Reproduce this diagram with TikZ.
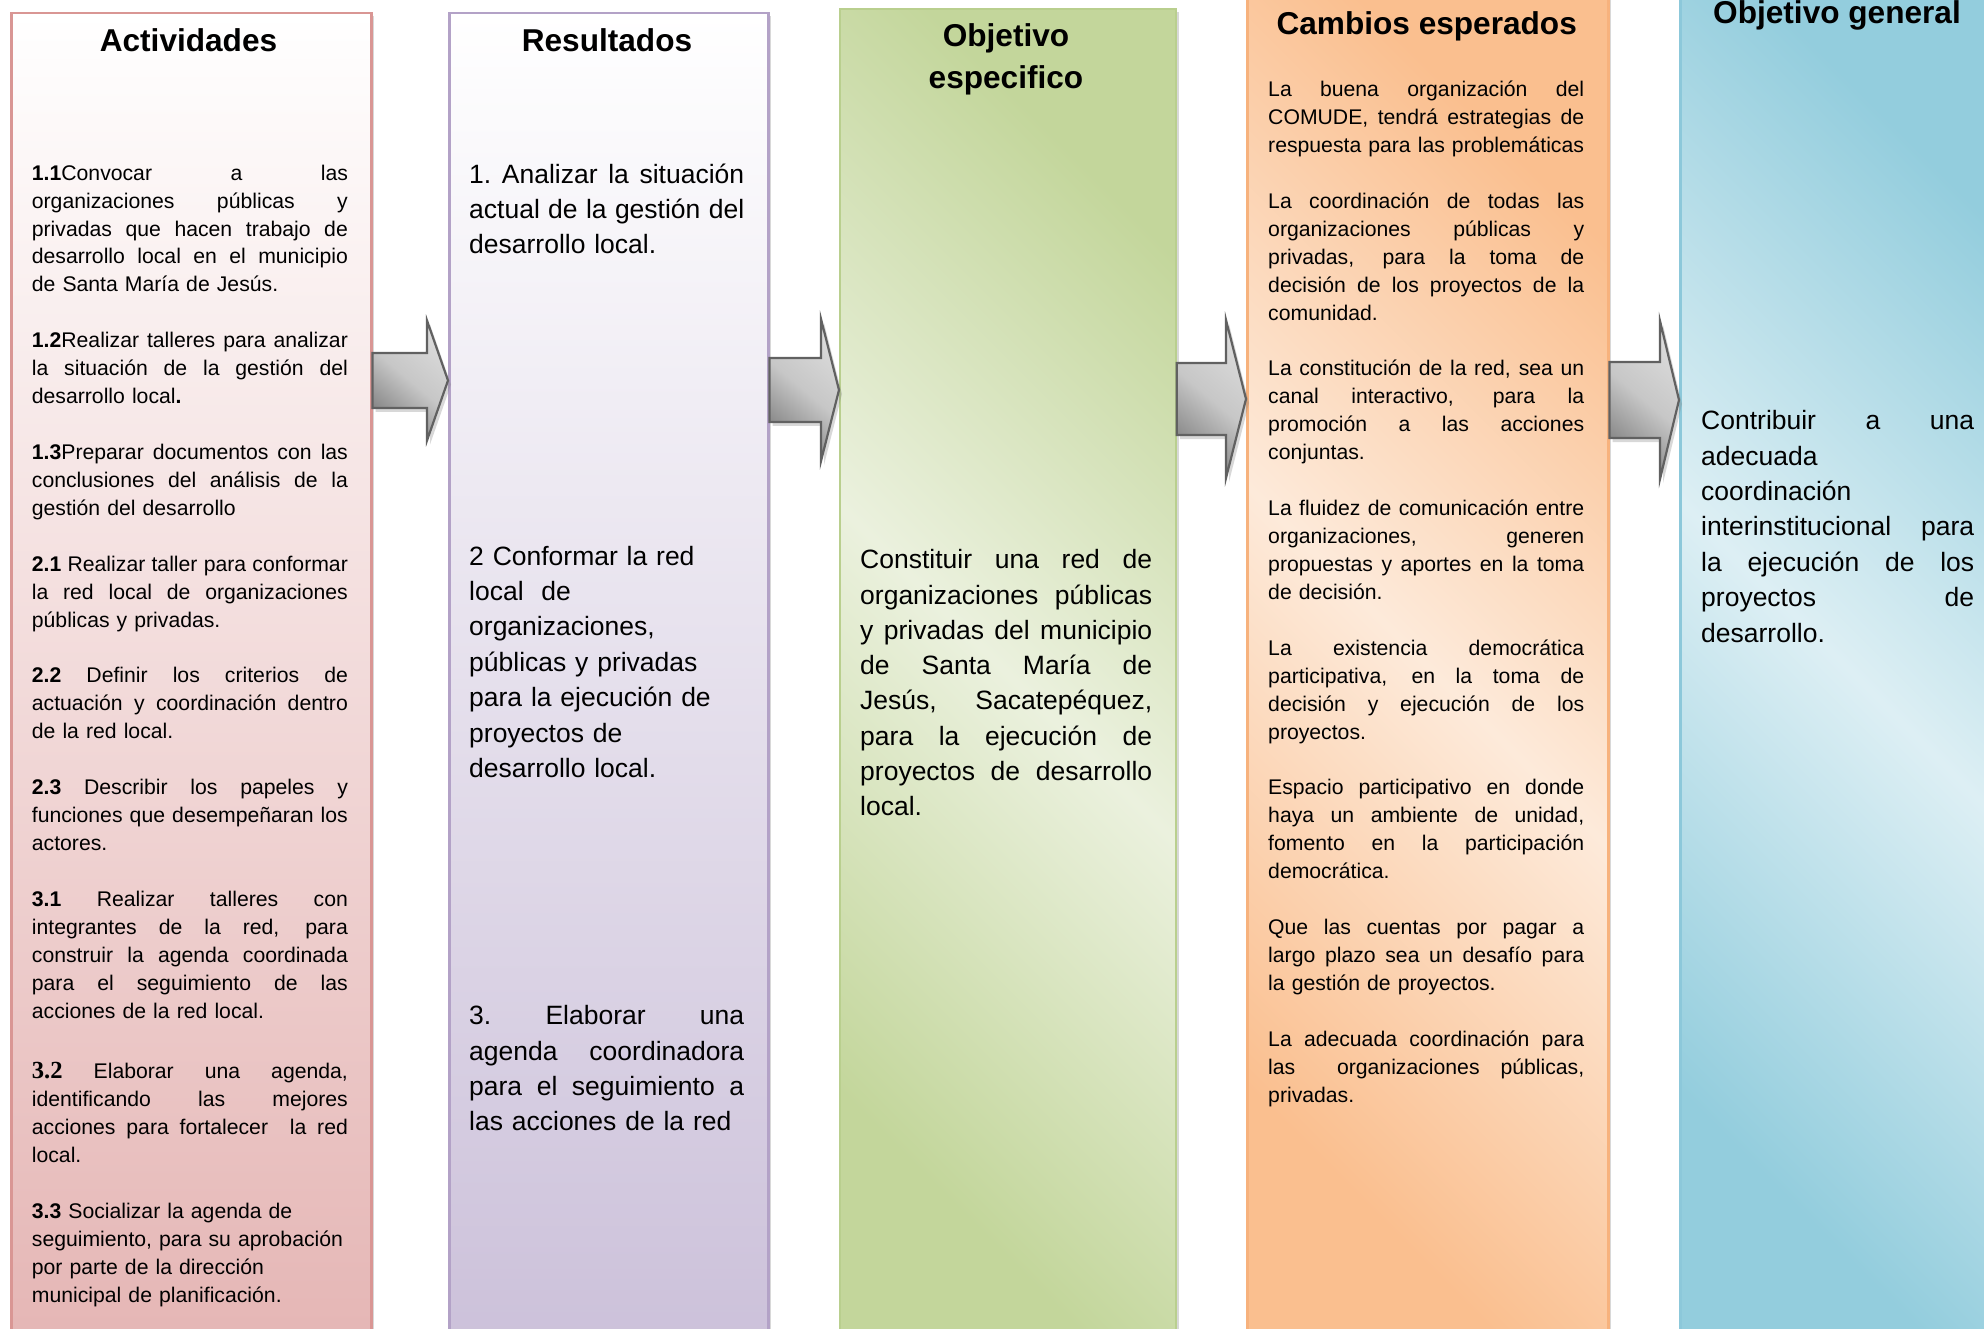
\documentclass[tikz,border=0pt]{standalone}
\usepackage{fontspec}
\setmainfont{Liberation Sans}
\newfontfamily\tnr{Liberation Serif}
\usetikzlibrary{calc,shadows}
\definecolor{redB}{RGB}{217,150,148}
\definecolor{redF}{RGB}{229,182,181}
\definecolor{purB}{RGB}{179,162,199}
\definecolor{purF}{RGB}{204,193,218}
\definecolor{grnB}{RGB}{185,207,142}
\definecolor{grnD}{RGB}{195,214,155}
\definecolor{grnL}{RGB}{235,241,222}
\definecolor{orgB}{RGB}{247,178,125}
\definecolor{orgD}{RGB}{250,191,143}
\definecolor{orgL}{RGB}{253,234,218}
\definecolor{bluB}{RGB}{140,200,218}
\definecolor{bluD}{RGB}{147,205,221}
\definecolor{bluL}{RGB}{221,239,244}
\setlength\parindent{0pt}
\hbadness=10000 \hfuzz=30pt \vbadness=10000
\newcommand\jl[1]{\makebox[\hsize][s]{\spaceskip=0.278em plus 1fil minus 0.05em\relax
  \xspaceskip=\spaceskip\strut#1}\par}
\newcommand\rl[1]{\strut#1\par}
\newcommand\gp{\vspace{\baselineskip}}
\newcommand\barrow[6]{%
  \coordinate (#1-#2-s) at (#1.east |- 0,#3);
  \coordinate (#1-#2-e) at (#2.west |- 0,#3);
  \draw[blockarrow] ($(#1-#2-s)+(0,-#4)$) -- ($(#1-#2-e)+(-#6,-#4)$)
    -- ($(#1-#2-e)+(-#6,-#5)$) -- (#1-#2-e) -- ($(#1-#2-e)+(-#6,#5)$)
    -- ($(#1-#2-e)+(-#6,#4)$) -- ($(#1-#2-s)+(0,#4)$) -- cycle;}
\begin{document}
\begin{tikzpicture}[x=1pt,y=-1pt,
  colbox/.style={draw, line width=2.5pt, anchor=north west, inner sep=0pt,
    drop shadow={shadow xshift=3pt, shadow yshift=-3pt, opacity=.3}},
  diagshade/.style n args={2}{top color=#1, bottom color=#1, middle color=#2, shading angle=-45},
  ttl/.style={font=\fontsize{31.6}{38}\selectfont\bfseries, inner sep=0pt, anchor=base},
  smalltext/.style={anchor=north west, inner sep=0pt,
    font=\fontsize{21.2}{27.93}\selectfont},
  largetext/.style={anchor=north west, inner sep=0pt,
    font=\fontsize{26.5}{35.4}\selectfont},
  blockarrow/.style={draw=black!62, line width=2.2pt, line join=miter,
    top color=black!14, bottom color=black!50, middle color=black!22, shading angle=-40,
    drop shadow={shadow xshift=3pt, shadow yshift=-4pt, opacity=.3}}]
\useasboundingbox (0,0) rectangle (1984,1329);
\fill[white] (0,0) rectangle (1984,1329);
\clip (0,0) rectangle (1984,1329);

% columns
\node[colbox, draw=redB, top color=white, bottom color=redF,
  minimum width=360pt, minimum height=1330pt] (c1) at (10,12) {};
\node[colbox, draw=purB, top color=white, bottom color=purF,
  minimum width=319pt, minimum height=1330pt] (c2) at (448,12) {};
\node[colbox, draw=grnB, line width=1.8pt, diagshade={grnD}{grnL},
  minimum width=336pt, minimum height=1330pt] (c3) at (839,8) {};
\node[colbox, draw=orgB, diagshade={orgD}{orgL},
  minimum width=361pt, minimum height=1350pt] (c4) at (1246,-10) {};
\node[colbox, draw=bluB, diagshade={bluD}{bluL},
  minimum width=330pt, minimum height=1350pt] (c5) at (1679,-10) {};

% arrows
\barrow{c1}{c2}{380.5}{27.5}{60}{21}
\barrow{c2}{c3}{390}{32}{71}{18}
\barrow{c3}{c4}{399}{36}{79}{20}
\barrow{c4}{c5}{400}{38}{79}{19}

% titles
\node[ttl] (h1) at (188.5,52) {Actividades};
\node[ttl] (h2) at (607,52) {Resultados};
\node[ttl] (h3) at (1006,46.7) {Objetivo};
\node[ttl] (h3b) at (1006,88.3) {especifico};
\node[ttl] (h4) at (1426.7,35) {Cambios esperados};
\node[ttl] (h5) at (1837,24) {Objetivo general};

% column 1 text
\node[smalltext, text width=316pt] (t1) at (31.7,160.45) {%
\jl{\textbf{1.1}Convocar a las}
\jl{organizaciones públicas y}
\jl{privadas que hacen trabajo de}
\jl{desarrollo local en el municipio}
\rl{de Santa María de Jesús.}
\gp
\jl{\textbf{1.2}Realizar talleres para analizar}
\jl{la situación de la gestión del}
\rl{desarrollo local\textbf{.}}
\gp
\jl{\textbf{1.3}Preparar documentos con las}
\jl{conclusiones del análisis de la}
\rl{gestión del desarrollo}
\gp
\jl{\textbf{2.1} Realizar taller para conformar}
\jl{la red local de organizaciones}
\rl{públicas y privadas.}
\gp
\jl{\textbf{2.2} Definir los criterios de}
\jl{actuación y coordinación dentro}
\rl{de la red local.}
\gp
\jl{\textbf{2.3} Describir los papeles y}
\jl{funciones que desempeñaran los}
\rl{actores.}
\gp
\jl{\textbf{3.1} Realizar talleres con}
\jl{integrantes de la red, para}
\jl{construir la agenda coordinada}
\jl{para el seguimiento de las}
\rl{acciones de la red local.}
\gp\vspace{5pt}
\jl{{\tnr\bfseries\fontsize{24.6}{27.93}\selectfont 3.2} Elaborar una agenda,}
\jl{identificando las mejores}
\jl{acciones para fortalecer\ \ la red}
\rl{local.}
\gp
\rl{\textbf{3.3} Socializar la agenda de}
\rl{seguimiento, para su aprobación}
\rl{por parte de la dirección}
\rl{municipal de planificación.}};

% column 2 text
\node[largetext, text width=275pt] (t2a) at (469,158.15) {%
\jl{1. Analizar la situación}
\jl{actual de la gestión del}
\rl{desarrollo local.}};
\node[largetext, text width=275pt] (t2b) at (469,540.15) {%
\rl{2 Conformar la red}
\rl{local\ \ de}
\rl{organizaciones,}
\rl{públicas y privadas}
\rl{para la ejecución de}
\rl{proyectos de}
\rl{desarrollo local.}};
\node[largetext, text width=275pt] (t2c) at (469,999.65) {%
\jl{3. Elaborar una}
\jl{agenda coordinadora}
\jl{para el seguimiento a}
\rl{las acciones de la red}};

% column 3 text
\node[largetext, font=\fontsize{26.5}{35.3}\selectfont, text width=292pt] (t3) at (860,543.8) {%
\jl{Constituir una red de}
\jl{organizaciones públicas}
\jl{y privadas del municipio}
\jl{de Santa María de}
\jl{Jesús, Sacatepéquez,}
\jl{para la ejecución de}
\jl{proyectos de desarrollo}
\rl{local.}};

% column 4 text
\node[smalltext, text width=316pt] (t4) at (1268,76.95) {%
\jl{La buena organización del}
\jl{COMUDE, tendrá estrategias de}
\rl{respuesta para las problemáticas}
\gp
\jl{La coordinación de todas las}
\jl{organizaciones públicas y}
\jl{privadas, para la toma de}
\jl{decisión de los proyectos de la}
\rl{comunidad.}
\gp
\jl{La constitución de la red, sea un}
\jl{canal interactivo, para la}
\jl{promoción a las acciones}
\rl{conjuntas.}
\gp
\jl{La fluidez de comunicación entre}
\jl{organizaciones, generen}
\jl{propuestas y aportes en la toma}
\rl{de decisión.}
\gp
\jl{La existencia democrática}
\jl{participativa, en la toma de}
\jl{decisión y ejecución de los}
\rl{proyectos.}
\gp
\jl{Espacio participativo en donde}
\jl{haya un ambiente de unidad,}
\jl{fomento en la participación}
\rl{democrática.}
\gp
\jl{Que las cuentas por pagar a}
\jl{largo plazo sea un desafío para}
\rl{la gestión de proyectos.}
\gp
\jl{La adecuada coordinación para}
\jl{las\ \ organizaciones públicas,}
\rl{privadas.}};

% column 5 text
\node[largetext, text width=273pt] (t5) at (1701,404.7) {%
\jl{Contribuir a una}
\rl{adecuada}
\rl{coordinación}
\jl{interinstitucional para}
\jl{la ejecución de los}
\jl{proyectos de}
\rl{desarrollo.}};
\end{tikzpicture}
\end{document}
